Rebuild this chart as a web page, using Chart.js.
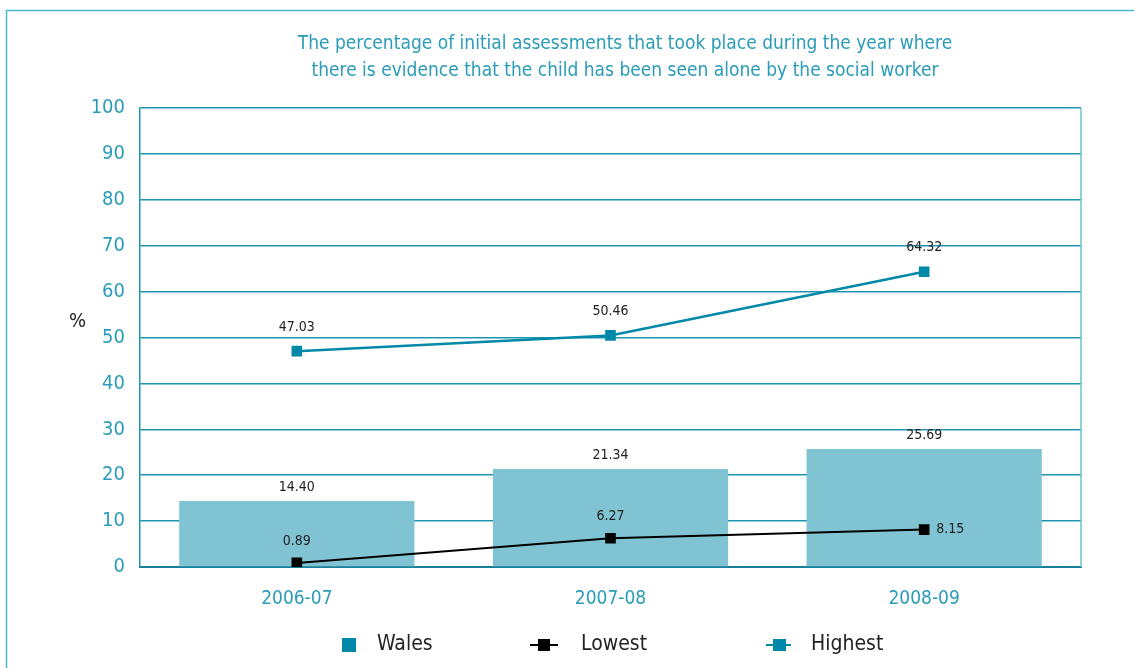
<!DOCTYPE html>
<html>
<head>
<meta charset="utf-8">
<script src="https://cdn.jsdelivr.net/npm/chart.js@4/dist/chart.umd.min.js"></script>
<style>
  html, body { margin: 0; padding: 0; background: #fff; }
  #wrap { width: 1134px; height: 668px; position: relative; }
</style>
</head>
<body>
<div id="wrap"><canvas id="seenAloneChart" width="1134" height="668"></canvas></div>
<script>
// data
const years = ['2006-07', '2007-08', '2008-09'];
const walesValues = [14.40, 21.34, 25.69];
const lowestValues = [0.89, 6.27, 8.15];
const highestValues = [47.03, 50.46, 64.32];
const yTicks = [0, 10, 20, 30, 40, 50, 60, 70, 80, 90, 100];
const titleLines = [
    'The percentage of initial assessments that took place during the year where',
    'there is evidence that the child has been seen alone by the social worker'
];

const FONT = "'Liberation Sans Narrow', 'DejaVu Sans Condensed', 'Roboto', sans-serif";
const TEAL_TXT = '#2a9cb8';
const TEAL_LINE = '#1d95b0';
const TEAL_DARK = '#0088a8';
const BAR_COL = '#80c4d4';

// titles, frame, value labels and legend drawn straight onto the canvas
const decoPlugin = {
    id: 'deco',
    beforeDraw(chart) {
        const c = chart.ctx;
        c.save();
        c.strokeStyle = '#4db8cc';
        c.lineWidth = 1.5;
        c.beginPath();
        c.moveTo(6.5, 668);
        c.lineTo(6.5, 10.5);
        c.lineTo(1134, 10.5);
        c.stroke();
        c.restore();
    },
    afterDraw(chart) {
        const c = chart.ctx;
        const area = chart.chartArea;
        c.save();

        // right edge of plot
        c.strokeStyle = '#6cc0d2';
        c.lineWidth = 1.5;
        c.beginPath();
        c.moveTo(area.right, area.top);
        c.lineTo(area.right, area.bottom);
        c.stroke();

        // title
        c.fillStyle = TEAL_TXT;
        c.font = '19px ' + FONT;
        c.textAlign = 'center';
        c.textBaseline = 'middle';
        titleLines.forEach((t, i) => c.fillText(t, 625, 44 + i * 27));

        // y unit
        c.fillStyle = '#222';
        c.font = '20px ' + FONT;
        c.textAlign = 'left';
        c.fillText('%', 69, 322);

        // value labels
        c.font = '14px ' + FONT;
        c.textAlign = 'center';
        chart.getDatasetMeta(0).data.forEach((el, i) => {
            c.fillText(walesValues[i].toFixed(2), el.x, el.y - 14);
        });
        chart.getDatasetMeta(1).data.forEach((el, i) => {
            if (i === lowestValues.length - 1) {
                c.textAlign = 'left';
                c.fillText(lowestValues[i].toFixed(2), el.x + 12, el.y);
                c.textAlign = 'center';
            } else {
                c.fillText(lowestValues[i].toFixed(2), el.x, el.y - 22);
            }
        });
        chart.getDatasetMeta(2).data.forEach((el, i) => {
            c.fillText(highestValues[i].toFixed(2), el.x, el.y - 24);
        });

        // legend
        const ly = 645;
        c.font = '21px ' + FONT;
        c.textAlign = 'left';
        c.fillStyle = TEAL_DARK;
        c.fillRect(342, ly - 7, 14, 14);
        c.fillStyle = '#222';
        c.fillText('Wales', 377, ly);

        c.strokeStyle = '#000';
        c.lineWidth = 2;
        c.beginPath(); c.moveTo(530, ly); c.lineTo(558, ly); c.stroke();
        c.fillStyle = '#000';
        c.fillRect(538, ly - 6, 12, 12);
        c.fillStyle = '#222';
        c.fillText('Lowest', 581, ly);

        c.strokeStyle = TEAL_DARK;
        c.beginPath(); c.moveTo(766, ly); c.lineTo(791, ly); c.stroke();
        c.fillStyle = TEAL_DARK;
        c.fillRect(773, ly - 6, 13, 12);
        c.fillStyle = '#222';
        c.fillText('Highest', 811, ly);

        c.restore();
    }
};

const ctx = document.getElementById('seenAloneChart').getContext('2d');
new Chart(ctx, {
    data: {
        labels: years,
        datasets: [
            {
                type: 'bar', label: 'Wales', data: walesValues,
                backgroundColor: BAR_COL, borderWidth: 0,
                categoryPercentage: 0.75, barPercentage: 1, order: 3
            },
            {
                type: 'line', label: 'Lowest', data: lowestValues,
                borderColor: '#000', borderWidth: 2, backgroundColor: '#000',
                pointStyle: 'rect', pointRadius: 7.5, pointBorderWidth: 0,
                tension: 0, order: 1
            },
            {
                type: 'line', label: 'Highest', data: highestValues,
                borderColor: TEAL_DARK, borderWidth: 2.5, backgroundColor: TEAL_DARK,
                pointStyle: 'rect', pointRadius: 7.5, pointBorderWidth: 0,
                tension: 0, order: 2
            }
        ]
    },
    options: {
        responsive: false,
        animation: false,
        layout: { padding: { left: 0, top: 108, right: 53, bottom: 0 } },
        plugins: {
            legend: { display: false },
            title: { display: false },
            tooltip: { enabled: false }
        },
        scales: {
            x: {
                grid: { display: false, drawTicks: false },
                border: { display: true, color: '#1a8099', width: 2 },
                ticks: { color: TEAL_TXT, font: { family: FONT, size: 19 }, padding: 21 },
                afterFit(scale) { scale.height = 101; }
            },
            y: {
                min: 0, max: 100,
                afterBuildTicks(scale) { scale.ticks = yTicks.map(v => ({ value: v })); },
                grid: { color: TEAL_LINE, lineWidth: 1.5, drawTicks: false },
                border: { display: true, color: TEAL_LINE, width: 1.5 },
                ticks: { color: TEAL_TXT, font: { family: FONT, size: 20 }, padding: 15 },
                afterFit(scale) { scale.width = 140; }
            }
        }
    },
    plugins: [decoPlugin]
});
</script>
</body>
</html>
